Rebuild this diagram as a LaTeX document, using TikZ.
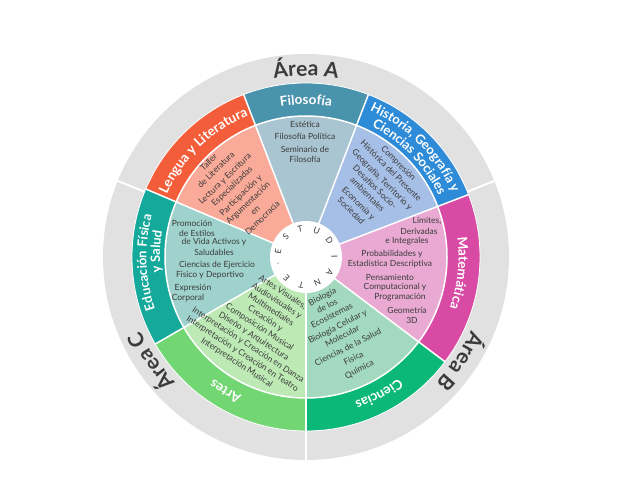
\documentclass[tikz,border=0pt]{standalone}
\usepackage{fontspec}
\setmainfont{Lato}
\usepackage{xcolor}
\usetikzlibrary{decorations.text}
\definecolor{filoD}{HTML}{4A93AD}
\definecolor{filoP}{HTML}{A9C5D2}
\definecolor{histD}{HTML}{2D8BD8}
\definecolor{histP}{HTML}{A6BFE6}
\definecolor{matD}{HTML}{D84AA3}
\definecolor{matP}{HTML}{E9A9D2}
\definecolor{cienD}{HTML}{0CB877}
\definecolor{cienP}{HTML}{A2D9BF}
\definecolor{artD}{HTML}{72D672}
\definecolor{artP}{HTML}{BDE9B5}
\definecolor{eduD}{HTML}{14A99B}
\definecolor{eduP}{HTML}{9FD2CC}
\definecolor{lengD}{HTML}{F45D3A}
\definecolor{lengP}{HTML}{F9AA98}
\definecolor{ringgray}{HTML}{E1E1E1}
\definecolor{areagray}{HTML}{3B3B3B}
\definecolor{txtgray}{HTML}{3C3C3C}
\newcommand{\bandfont}{\color{white}\bfseries\fontsize{13.5}{16}\selectfont}
\newcommand{\bandsmall}{\color{white}\bfseries\fontsize{13}{15}\selectfont}
\newcommand{\areafont}{\color{areagray}\bfseries\fontsize{21}{24}\selectfont}
\tikzset{
  course/.style={font=\fontsize{8.5}{10.5}\selectfont, text=txtgray, align=center, inner sep=0pt},
  letter/.style={font=\fontsize{8.5}{10}\selectfont, text=txtgray, inner sep=0pt},
  curved/.style={decorate, decoration={text along path, text align=center, text={#1}}},
  cut/.style={white, line width=1.5pt}
}

\begin{document}
\begin{tikzpicture}[x=1pt, y=1pt]
	\fill[white] (-306,-246) rectangle (325,257);
	%outer ring of the areas
	\fill[ringgray] (0,0) circle[radius=203];
	\foreach \a in {22,158,270} \draw[white, line width=2pt] (\a:172) -- (\a:204);
	%sectors: subject band and pale inner part
	\foreach \a/\b/\d/\p in {69/111/filoD/filoP, 111/157/lengD/lengP, 157/210/eduD/eduP, 210/270/artD/artP, 270/323/cienD/cienP, 323/381/matD/matP, 21/69/histD/histP}{
		\fill[\d] (0,0) -- (\a:174) arc[start angle=\a, end angle=\b, radius=174] -- cycle;
		\fill[\p] (0,0) -- (\a:141) arc[start angle=\a, end angle=\b, radius=141] -- cycle;
	}
	\draw[white, line width=0.8pt] (0,0) circle[radius=174];
	\draw[cut] (0,0) circle[radius=141];
	\foreach \a in {21,69,111,157,210,270,323} \draw[cut] (0,0) -- (\a:174);
	%centre
	\fill[white] (0,0) circle[radius=36];
	\foreach \l [count=\i] in {E,S,T,U,D,I,A,N,T,E,.}{
		\pgfmathsetmacro{\ang}{169-33.6*(\i-1)}
		\node[letter, rotate=\ang-90] (est\i) at (\ang:28.5) {\l};
	}
	%area labels
	\path[curved={|\areafont|Área A}] (150:181) arc[start angle=150, end angle=30, radius=181];
	\path[curved={|\areafont|Área B}] (26:181) arc[start angle=26, end angle=-94, radius=181];
	\path[curved={|\areafont|Área C}] (274:181) arc[start angle=274, end angle=154, radius=181];
	%subject labels
	\path[curved={|\bandfont|Filosofía}] (140:152.5) arc[start angle=140, end angle=40, radius=152.5];
	\path[curved={|\bandsmall|Historia, Geografía y}] (95:159.5) arc[start angle=95, end angle=-5, radius=159.5];
	\path[curved={|\bandsmall|Ciencias Sociales}] (94:146) arc[start angle=94, end angle=-6, radius=146];
	\path[curved={|\bandfont|Matemática}] (44:152.5) arc[start angle=44, end angle=-56, radius=152.5];
	\path[curved={|\bandfont|Ciencias}] (-12:152.5) arc[start angle=-12, end angle=-112, radius=152.5];
	\path[curved={|\bandfont|Artes}] (-71:152.5) arc[start angle=-71, end angle=-171, radius=152.5];
	\path[curved={|\bandsmall|Educación Física}] (232:159.5) arc[start angle=232, end angle=132, radius=159.5];
	\path[curved={|\bandsmall|y Salud}] (228:146) arc[start angle=228, end angle=128, radius=146];
	\path[curved={|\bandfont|Lengua y Literatura}] (184:152.5) arc[start angle=184, end angle=84, radius=152.5];
	%courses
	\node[course] (filo) at (-1,115) {Estética\\[2pt]Filosofía Política\\[2pt]Seminario de\\Filosofía};
	\node[course, rotate=44] (leng) at (-70.5,67) {Taller\\de Literatura\\[2pt]Lectura y Escritura\\Especializadas\\[2pt]Participación y\\Argumentación\\en\\Democracia};
	\node[course, rotate=-45] (hist) at (69,70) {Compresión\\Histórica del Presente\\[2pt]Geografía, Territorio y\\Desafíos Socio-\\ambientales\\[2pt]Economía y\\Sociedad};
	\node[course, rotate=27] (cien) at (35,-76.5) {Biología\\de los\\Ecosistemas\\[2pt]Biología Celular y\\Molecular\\[2pt]Ciencias de la Salud\\[2pt]Física\\[2pt]Química};
	\node[course, rotate=-33] (arte) at (-46.5,-70.5) {Artes Visuales,\\Audiovisuales y\\Multimediales\\Creación y\\Composición Musical\\Diseño y Arquitectura\\Interpretación y Creación en Danza\\Interpretación y Creación en Teatro\\Interpretación Musical};
	\foreach \x/\y/\t [count=\i] in {{121/36/Límites,}, 113/26/Derivadas, 101/16/e Integrales, 86/3/Probabilidades y, 84/-7/Estadística Descriptiva, 84/-20/Pensamiento, 89/-30/Computacional y, 94/-40/Programación, 101/-53/Geometría, 106/-63/3D}
		\node[course] (mat\i) at (\x,\y) {\t};
	\foreach \x/\y/\t [count=\i] in {-114/34/Promoción, -109/24/de Estilos, -92/15/de Vida Activos y, -92/5/Saludables, -89/-8/Ciencias de Ejercicio, -96/-18/Físico y Deportivo, -113/-31/Expresión, -118/-41/Corporal}
		\node[course] (edu\i) at (\x,\y) {\t};
\end{tikzpicture}
\end{document}
